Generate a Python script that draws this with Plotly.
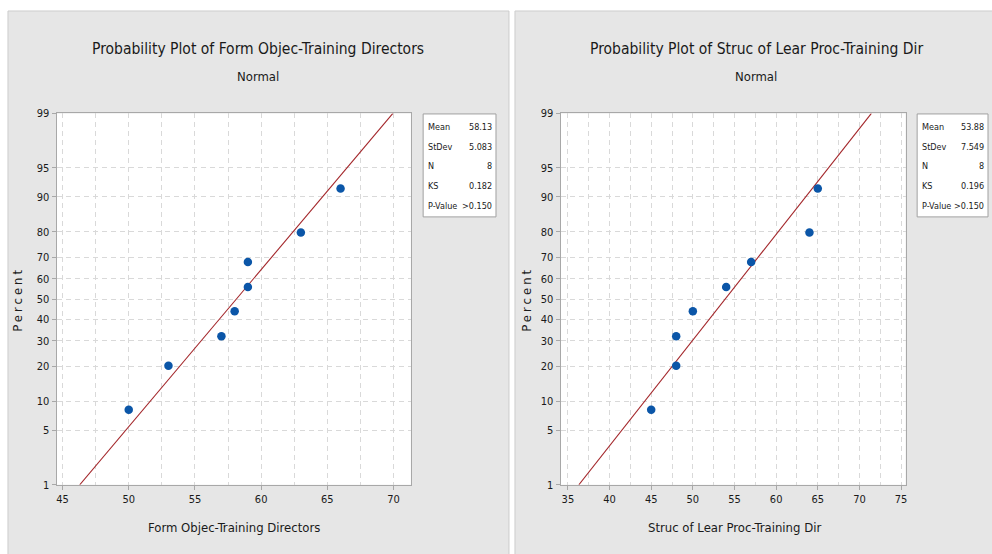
import numpy as np
import plotly.graph_objects as go
from statistics import NormalDist

# ---------------- data ----------------
left_values = [50, 53, 57, 58, 59, 59, 63, 66]
right_values = [45, 48, 48, 50, 54, 57, 64, 65]
percents = [8.3, 20.2, 32.1, 44.0, 56.0, 67.9, 79.8, 91.7]

left_title = "Probability Plot of Form Objec-Training Directors"
right_title = "Probability Plot of Struc of Lear Proc-Training Dir"
subtitle = "Normal"
left_xlabel = "Form Objec-Training Directors"
right_xlabel = "Struc of Lear Proc-Training Dir"
ylabel = "Percent"

y_tick_percents = [1, 5, 10, 20, 30, 40, 50, 60, 70, 80, 90, 95, 99]
left_xticks = [45, 50, 55, 60, 65, 70]
right_xticks = [35, 40, 45, 50, 55, 60, 65, 70, 75]

left_stats_labels = ["Mean", "StDev", "N", "KS", "P-Value"]
left_stats_values = ["58.13", "5.083", "8", "0.182", ">0.150"]
right_stats_labels = ["Mean", "StDev", "N", "KS", "P-Value"]
right_stats_values = ["53.88", "7.549", "8", "0.196", ">0.150"]

# ---------------- helpers ----------------
W, H = 992, 554
nd = NormalDist()
z = lambda p: nd.inv_cdf(p / 100.0)
zlo, zhi = z(1), z(99)

FONT = "DejaVu Sans Condensed, Liberation Sans Narrow, Liberation Sans, sans-serif"
TXT = "#1a1a1a"
BLUE = "#0b56a8"
RED = "#a3262a"
GRID = "#d9d9d9"
AX = "#a8a8a8"
PANEL = "#e6e6e6"

# empirical vertical mapping between figure pixels and photographed pixels
YOFF, YSCALE = 5.0, 0.977


def px(x):
    return x / W


def py(y):
    yf = (y - YOFF) / YSCALE
    return 1 - yf / H


fig = go.Figure()

panels = [
    dict(vals=left_values, xa="x", ya="y", xpx=(56.7, 411.7), xr=[44.55, 71.31],
         xt=left_xticks, title=left_title, tx=259, xl=left_xlabel, xlx=234, plx=18,
         panel=(8, 510), box=(424, 497), sl=left_stats_labels, sv=left_stats_values),
    dict(vals=right_values, xa="x2", ya="y2", xpx=(561.7, 907.5), xr=[34.12, 75.55],
         xt=right_xticks, title=right_title, tx=758, xl=right_xlabel, xlx=736, plx=528,
         panel=(516, 1000), box=(919, 990), sl=right_stats_labels, sv=right_stats_values),
]

YTOP, YBOT = 112.5, 484
shapes = []
annotations = []
ydom = [py(YBOT), py(YTOP)]

for i, p in enumerate(panels):
    vals = np.array(p["vals"], dtype=float)
    mean = vals.mean()
    sd = vals.std(ddof=1)
    zz = np.array([zlo, zhi])
    fig.add_trace(go.Scatter(x=mean + sd * zz, y=zz, mode="lines",
                             line=dict(color=RED, width=1.1),
                             xaxis=p["xa"], yaxis=p["ya"], showlegend=False, hoverinfo="skip"))
    fig.add_trace(go.Scatter(x=sorted(p["vals"]), y=[z(v) for v in percents], mode="markers",
                             marker=dict(color=BLUE, size=8.5, symbol="circle"),
                             xaxis=p["xa"], yaxis=p["ya"], showlegend=False))

    sfx = "" if i == 0 else "2"
    minor_vals = [t + 2.5 for t in p["xt"][:-1]]
    x0p, x1p = p["xpx"]
    fig.update_layout(**{
        "xaxis" + sfx: dict(domain=[px(x0p), px(x1p)], range=p["xr"], tickvals=p["xt"],
                            ticks="outside", ticklen=4, tickcolor=AX,
                            showgrid=True, gridcolor=GRID, griddash="5px,4px", gridwidth=1,
                            minor=dict(tickvals=minor_vals, showgrid=True, gridcolor=GRID,
                                       griddash="5px,4px", ticks=""),
                            showline=True, linecolor=AX, mirror=True, zeroline=False,
                            tickfont=dict(family=FONT, size=11, color=TXT), anchor="y" + sfx),
        "yaxis" + sfx: dict(domain=ydom, range=[zlo, zhi], tickvals=[z(t) for t in y_tick_percents],
                            ticktext=[str(t) for t in y_tick_percents],
                            ticks="outside", ticklen=4, tickcolor=AX,
                            showgrid=True, gridcolor=GRID, griddash="5px,4px", gridwidth=1,
                            showline=True, linecolor=AX, mirror=True, zeroline=False,
                            tickfont=dict(family=FONT, size=11, color=TXT), anchor="x" + sfx),
    })

    # panel background
    shapes.append(dict(type="rect", xref="paper", yref="paper", x0=px(p["panel"][0]), x1=px(p["panel"][1]),
                       y0=-0.05, y1=py(10), fillcolor=PANEL, line=dict(color="#cdcdcd", width=1),
                       layer="below"))
    # white plot area
    shapes.append(dict(type="rect", xref="paper", yref="paper", x0=px(x0p), x1=px(x1p),
                       y0=py(YBOT), y1=py(YTOP), fillcolor="white", line=dict(width=0),
                       layer="below"))
    # stats box
    b0, b1 = p["box"]
    shapes.append(dict(type="rect", xref="paper", yref="paper", x0=px(b0), x1=px(b1),
                       y0=py(216), y1=py(113), fillcolor="white", line=dict(color="#a0a0a0", width=1)))
    for k, (lab, val) in enumerate(zip(p["sl"], p["sv"])):
        yy = py(126 + k * 19.7)
        annotations.append(dict(xref="paper", yref="paper", x=px(b0 + 3), y=yy, text=lab, showarrow=False,
                                xanchor="left", yanchor="middle", font=dict(family=FONT, size=9, color=TXT)))
        annotations.append(dict(xref="paper", yref="paper", x=px(b1 - 2), y=yy, text=val, showarrow=False,
                                xanchor="right", yanchor="middle", font=dict(family=FONT, size=9, color=TXT)))

    # titles and labels
    annotations.append(dict(xref="paper", yref="paper", x=px(p["tx"]), y=py(48), text=p["title"],
                            showarrow=False, xanchor="center", yanchor="middle",
                            font=dict(family=FONT, size=15.5, color=TXT)))
    annotations.append(dict(xref="paper", yref="paper", x=px(p["tx"]), y=py(76), text=subtitle,
                            showarrow=False, xanchor="center", yanchor="middle",
                            font=dict(family=FONT, size=13, color=TXT)))
    annotations.append(dict(xref="paper", yref="paper", x=px(p["xlx"]), y=py(527), text=p["xl"],
                            showarrow=False, xanchor="center", yanchor="middle",
                            font=dict(family=FONT, size=13, color=TXT)))
    annotations.append(dict(xref="paper", yref="paper", x=px(p["plx"]), y=py(298),
                            text='<span style="letter-spacing:3px">' + ylabel + '</span>',
                            showarrow=False, xanchor="center", yanchor="middle", textangle=-90,
                            font=dict(family=FONT, size=13, color=TXT)))

fig.update_layout(
    width=W, height=H,
    margin=dict(l=0, r=0, t=0, b=0),
    paper_bgcolor="white",
    plot_bgcolor="white",
    shapes=shapes,
    annotations=annotations,
    showlegend=False,
)

fig.write_html(
    "out.html",
    config={"displayModeBar": False},
    post_script="document.body.style.margin='0';document.body.style.overflow='hidden';",
)
